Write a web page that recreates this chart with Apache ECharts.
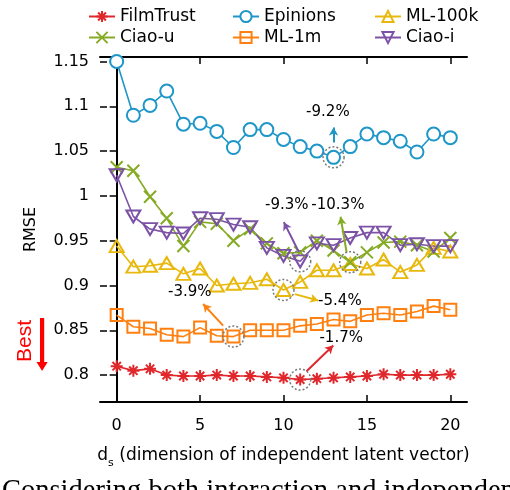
<!DOCTYPE html>
<html>
<head>
<meta charset="utf-8">
<script src="https://cdn.jsdelivr.net/npm/echarts@6/dist/echarts.min.js"></script>
<style>
  html, body { margin: 0; padding: 0; background: #fff; }
  #chart { width: 510px; height: 490px; }
</style>
</head>
<body>
<div id="chart"></div>
<script>
// d_s values on the x axis
const dims = [0, 1, 2, 3, 4, 5, 6, 7, 8, 9, 10, 11, 12, 13, 14, 15, 16, 17, 18, 19, 20];

// RMSE per dataset
const filmTrust = [0.810, 0.805, 0.807, 0.800, 0.799, 0.799, 0.800, 0.799, 0.799, 0.798, 0.797,
                   0.795, 0.796, 0.797, 0.798, 0.799, 0.801, 0.800, 0.800, 0.800, 0.801];
const epinions  = [1.150, 1.090, 1.101, 1.117, 1.080, 1.081, 1.072, 1.054, 1.074, 1.074, 1.063,
                   1.055, 1.050, 1.043, 1.055, 1.069, 1.065, 1.061, 1.049, 1.069, 1.065];
const ml100k    = [0.944, 0.921, 0.922, 0.925, 0.913, 0.919, 0.900, 0.902, 0.903, 0.907, 0.895,
                   0.904, 0.917, 0.917, 0.924, 0.919, 0.929, 0.915, 0.923, 0.942, 0.938];
const ciaoU     = [1.032, 1.028, 0.999, 0.975, 0.944, 0.971, 0.969, 0.950, 0.963, 0.947, 0.936,
                   0.937, 0.950, 0.939, 0.926, 0.937, 0.948, 0.949, 0.945, 0.938, 0.953];
const ml1m      = [0.867, 0.854, 0.852, 0.845, 0.843, 0.853, 0.844, 0.843, 0.850, 0.850, 0.850,
                   0.855, 0.857, 0.862, 0.860, 0.867, 0.869, 0.867, 0.871, 0.877, 0.873];
const ciaoI     = [1.023, 0.977, 0.963, 0.959, 0.958, 0.975, 0.974, 0.968, 0.965, 0.942, 0.933,
                   0.927, 0.947, 0.945, 0.953, 0.959, 0.959, 0.945, 0.946, 0.944, 0.944];

const xTicks = [0, 5, 10, 15, 20];
const yTicks = [0.8, 0.85, 0.9, 0.95, 1, 1.05, 1.1, 1.15];

// improvement notes: circled point index, label text and where it sits, arrow start/end (data units)
const notes = {
  "Epinions":  { at: 13, text: "-9.2%",  label: [12.66, 1.093],  arrow: [[13.0, 1.0597], [13.0, 1.0763]] },
  "Ciao-i":    { at: 11, text: "-9.3%",  label: [10.2, 0.9897],  arrow: [[10.92, 0.9374], [10.02, 0.9707]] },
  "Ciao-u":    { at: 14, text: "-10.3%", label: [13.26, 0.9897], arrow: [[13.78, 0.9374], [13.42, 0.9767]] },
  "ML-1m":     { at: 7,  text: "-3.9%",  label: [4.38, 0.8922],  arrow: [[6.38, 0.8553], [5.18, 0.8793]] },
  "ML-100k":   { at: 10, text: "-5.4%",  label: [13.38, 0.8822], arrow: [[10.68, 0.8904], [12.08, 0.8833]] },
  "FilmTrust": { at: 11, text: "-1.7%",  label: [13.46, 0.8416], arrow: [[11.38, 0.8044], [12.98, 0.833]] }
};

const FONT = "DejaVu Sans";
const starPath = "path://M5,0L5,10M0,5L10,5M1.5,1.5L8.5,8.5M8.5,1.5L1.5,8.5";
const crossPath = "path://M0,0L10,10M10,0L0,10";

function makeSeries(name, values, color, symbol, size, fill, rotate) {
  const note = notes[name];
  return {
    name: name,
    type: "line",
    data: dims.map(function (d, i) { return [d, values[i]]; }),
    color: color,
    symbol: symbol,
    symbolSize: size,
    symbolRotate: rotate || 0,
    showAllSymbol: true,
    lineStyle: { color: color, width: 1.6 },
    itemStyle: { color: fill, borderColor: color, borderWidth: 2 },
    emphasis: { disabled: true },
    markPoint: {
      silent: true,
      animation: false,
      data: [
        {
          coord: [dims[note.at], values[note.at]],
          symbol: "circle",
          symbolSize: 21,
          itemStyle: { color: "rgba(0,0,0,0)", borderColor: "#7a7a7a", borderWidth: 1.5, borderType: [2, 2] },
          label: { show: false }
        },
        {
          coord: note.label,
          symbol: "circle",
          symbolSize: 1,
          itemStyle: { color: "rgba(0,0,0,0)" },
          label: { show: true, position: "inside", formatter: note.text, color: "#000", fontSize: 15, fontFamily: FONT }
        }
      ]
    },
    markLine: {
      silent: true,
      animation: false,
      symbol: ["none", "arrow"],
      symbolSize: [7, 8],
      lineStyle: { color: color, width: 2, type: "solid" },
      label: { show: false },
      data: [[{ coord: note.arrow[0] }, { coord: note.arrow[1] }]]
    }
  };
}

const chart = echarts.init(document.getElementById("chart"));

const legendText = { fontSize: 17, fontFamily: FONT, color: "#000" };
const legendBase = { orient: "vertical", top: 3, itemWidth: 26, itemHeight: 14, itemGap: 4, textStyle: legendText, selectedMode: false };

const frameLine = { show: true, lineStyle: { color: "#000", width: 2 } };

chart.setOption({
  animation: false,
  textStyle: { fontFamily: FONT },
  legend: [
    Object.assign({ left: 83, data: ["FilmTrust", "Ciao-u"] }, legendBase),
    Object.assign({ left: 227, data: ["Epinions", "ML-1m"] }, legendBase),
    Object.assign({ left: 369, data: ["ML-100k", "Ciao-i"] }, legendBase)
  ],
  grid: { left: 100, right: 43, top: 57, bottom: 88 },
  xAxis: [
    {
      type: "value", min: -1, max: 21, position: "bottom",
      axisLine: frameLine,
      axisTick: { inside: true, length: 7, customValues: xTicks, lineStyle: { color: "#000", width: 1.5 } },
      axisLabel: { customValues: xTicks, margin: 16, fontSize: 16, fontFamily: FONT, color: "#000" },
      splitLine: { show: false },
      name: "d{sub|s} (dimension of independent latent vector)",
      nameLocation: "middle",
      nameGap: 40,
      nameTextStyle: {
        fontSize: 17, fontFamily: FONT, color: "#000",
        rich: { sub: { fontSize: 11, fontFamily: FONT, color: "#000", padding: [16, 0, 0, 0] } }
      }
    },
    {
      type: "value", min: -1, max: 21, position: "top",
      axisLine: frameLine,
      axisTick: { inside: true, length: 7, customValues: xTicks, lineStyle: { color: "#000", width: 1.5 } },
      axisLabel: { show: false },
      splitLine: { show: false }
    }
  ],
  yAxis: [
    {
      type: "value", min: 0.77, max: 1.155, position: "left",
      axisLine: frameLine,
      axisTick: { inside: false, length: 7, customValues: yTicks, lineStyle: { color: "#000", width: 1.5 } },
      axisLabel: {
        customValues: yTicks, margin: 11, fontSize: 16, fontFamily: FONT, color: "#000",
        formatter: function (v) { return String(+v.toFixed(2)); }
      },
      splitLine: { show: false },
      name: "RMSE",
      nameLocation: "middle",
      nameGap: 61,
      nameTextStyle: { fontSize: 16, fontFamily: FONT, color: "#000" }
    },
    {
      type: "value", min: 0.77, max: 1.155, position: "right",
      axisLine: frameLine,
      axisTick: { inside: true, length: 7, customValues: yTicks, lineStyle: { color: "#000", width: 1.5 } },
      axisLabel: { show: false },
      splitLine: { show: false }
    },
    {
      type: "value", min: 0.77, max: 1.155, position: "left", offset: 0,
      axisLine: { show: false },
      axisTick: { inside: true, length: 7, customValues: yTicks, lineStyle: { color: "#000", width: 1.5 } },
      axisLabel: { show: false },
      splitLine: { show: false }
    }
  ],
  series: [
    makeSeries("FilmTrust", filmTrust, "#e0282c", starPath, 12, "rgba(0,0,0,0)"),
    makeSeries("Epinions", epinions, "#1e96c8", "circle", 13, "#ffffff"),
    makeSeries("ML-100k", ml100k, "#e8b80c", "triangle", [14, 12], "rgba(0,0,0,0)"),
    makeSeries("ML-1m", ml1m, "#ff8010", "rect", 12, "rgba(0,0,0,0)"),
    makeSeries("Ciao-u", ciaoU, "#86ab24", crossPath, 12, "rgba(0,0,0,0)"),
    makeSeries("Ciao-i", ciaoI, "#7b52a6", "triangle", [14, 12], "rgba(0,0,0,0)", 180)
  ],
  graphic: [
    {
      type: "text", x: 25, y: 341, rotation: Math.PI / 2,
      style: { text: "Best", fill: "#ff0000", font: "21px 'Liberation Sans'", align: "center", verticalAlign: "middle" }
    },
    {
      type: "rect", shape: { x: 40, y: 318, width: 4.2, height: 46 },
      style: { fill: "#ff0000" }
    },
    {
      type: "polygon", shape: { points: [[36.5, 362], [47.7, 362], [42.1, 371]] },
      style: { fill: "#ff0000" }
    },
    {
      type: "text", x: 2, y: 492,
      style: { text: "Considering both interaction and independent", fill: "#000", font: "28.5px 'Liberation Serif'", verticalAlign: "middle" }
    }
  ]
});

window.addEventListener("resize", function () {
  chart.resize();
});
</script>
</body>
</html>
